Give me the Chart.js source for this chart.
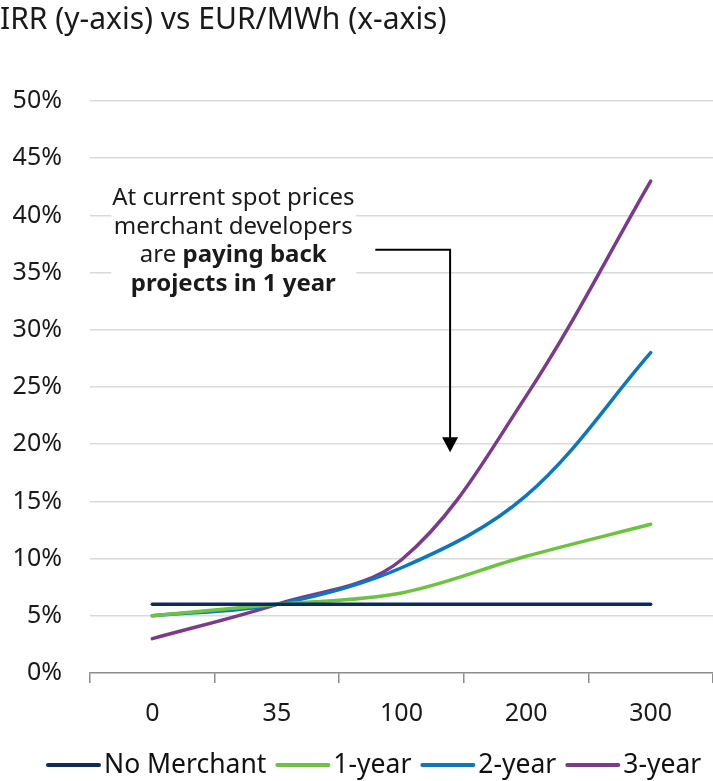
<!DOCTYPE html>
<html>
<head>
<meta charset="utf-8">
<script src="https://cdn.jsdelivr.net/npm/chart.js@4/dist/chart.umd.min.js"></script>
<style>
  html, body { margin: 0; padding: 0; background: #fff; }
  #wrap { width: 713px; height: 781px; position: relative; }
</style>
</head>
<body>
<div id="wrap"><canvas id="irr"></canvas></div>
<script>
// x categories: power price, EUR/MWh
const prices = ['0', '35', '100', '200', '300'];

// IRR in % for each merchant tail length
const noMerchant = [6, 6, 6, 6, 6];
const oneYear = [5, 6, 7, 10.2, 13];
const twoYear = [5, 6, 9.2, 15.5, 28];
const threeYear = [3, 6, 9.9, 24.2, 43];

const seriesNames = ['No Merchant', '1-year', '2-year', '3-year'];
const seriesColors = ['#0b2c5c', '#6cc33f', '#0a78be', '#7b3a8c'];

const yTicks = [0, 5, 10, 15, 20, 25, 30, 35, 40, 45, 50];

const FONT = "'Noto Sans', 'Open Sans', sans-serif";

// callout text + bent arrow
const calloutPlugin = {
  id: 'callout',
  afterDatasetsDraw(chart) {
    const { ctx, scales } = chart;
    const x = scales.x, y = scales.y;
    const step = x.getPixelForValue(1) - x.getPixelForValue(0);

    const cx = x.getPixelForValue(0) + step * 0.65;
    const first = y.getPixelForValue(41.5);
    const lh = 28.7;

    ctx.save();
    // white patch behind the text
    ctx.fillStyle = '#fff';
    ctx.fillRect(cx - 122, first - 14, 245, 114);

    ctx.fillStyle = '#1a1a1a';
    ctx.textAlign = 'center';
    ctx.textBaseline = 'middle';
    ctx.font = '24px ' + FONT;
    ctx.fillText('At current spot prices', cx, first);
    ctx.fillText('merchant developers', cx, first + lh);

    // mixed regular / bold line
    const l3y = first + lh * 2;
    ctx.font = '24px ' + FONT;
    const w1 = ctx.measureText('are ').width;
    ctx.font = 'bold 24px ' + FONT;
    const w2 = ctx.measureText('paying back').width;
    const sx = cx - (w1 + w2) / 2;
    ctx.textAlign = 'left';
    ctx.font = '24px ' + FONT;
    ctx.fillText('are ', sx, l3y);
    ctx.font = 'bold 24px ' + FONT;
    ctx.fillText('paying back', sx + w1, l3y);
    ctx.textAlign = 'center';
    ctx.fillText('projects in 1 year', cx, first + lh * 3);

    // arrow
    const ax = x.getPixelForValue(2) + step * 0.39;
    const ay0 = y.getPixelForValue(37);
    const tip = y.getPixelForValue(19.3);
    ctx.strokeStyle = '#000';
    ctx.lineWidth = 2;
    ctx.beginPath();
    ctx.moveTo(cx + 142, ay0);
    ctx.lineTo(ax, ay0);
    ctx.lineTo(ax, tip - 14);
    ctx.stroke();
    ctx.fillStyle = '#000';
    ctx.beginPath();
    ctx.moveTo(ax - 8, tip - 15);
    ctx.lineTo(ax + 8, tip - 15);
    ctx.lineTo(ax, tip);
    ctx.closePath();
    ctx.fill();
    ctx.restore();
  }
};

// legend row drawn as line swatch + label, packed tight
const legendRowPlugin = {
  id: 'legendRow',
  afterDraw(chart) {
    const { ctx } = chart;
    const yMid = 765;
    const lineLen = 53;
    ctx.save();
    ctx.font = '26.5px ' + FONT;
    ctx.textBaseline = 'middle';
    ctx.textAlign = 'left';
    const items = chart.data.datasets.map(ds => ({
      label: ds.label, color: ds.borderColor,
      w: lineLen + 5 + ctx.measureText(ds.label).width
    }));
    const gap = 9;
    let x = 47;
    items.forEach(it => {
      ctx.strokeStyle = it.color;
      ctx.lineWidth = 4;
      ctx.lineCap = 'round';
      ctx.beginPath();
      ctx.moveTo(x + 1, yMid);
      ctx.lineTo(x + lineLen - 1, yMid);
      ctx.stroke();
      ctx.fillStyle = '#111';
      ctx.fillText(it.label, x + lineLen + 4, yMid);
      x += it.w + gap;
    });
    ctx.restore();
  }
};

const seriesData = [noMerchant, oneYear, twoYear, threeYear];

new Chart(document.getElementById('irr'), {
  type: 'line',
  data: {
    labels: prices,
    datasets: seriesData.map((d, i) => ({
      label: seriesNames[i],
      data: d,
      borderColor: seriesColors[i],
      backgroundColor: seriesColors[i],
      borderWidth: 3.5,
      borderCapStyle: 'round',
      pointRadius: 0,
      tension: 0.35,
      fill: false
    }))
  },
  options: {
    responsive: true,
    maintainAspectRatio: false,
    animation: false,
    layout: { padding: { top: 0, right: 0, bottom: 48, left: 0 } },
    plugins: {
      legend: { display: false },
      tooltip: { enabled: false },
      title: {
        display: true,
        text: 'IRR (y-axis) vs EUR/MWh (x-axis)',
        align: 'start',
        color: '#1a1a1a',
        font: { family: FONT, size: 30, weight: 'normal' },
        padding: { top: 2, bottom: 63 }
      }
    },
    scales: {
      x: {
        offset: true,
        grid: {
          offset: true,
          drawOnChartArea: false,
          drawTicks: true,
          tickLength: 10,
          color: '#8c8c8c',
          lineWidth: 1.5
        },
        border: { display: true, color: '#8c8c8c', width: 1.5 },
        ticks: {
          color: '#1a1a1a',
          padding: 16,
          font: { family: FONT, size: 25 }
        },
        afterFit(scale) { scale.height = 60; }
      },
      y: {
        min: 0,
        max: 50,
        afterBuildTicks(scale) { scale.ticks = yTicks.map(v => ({ value: v })); },
        grid: {
          drawTicks: false,
          color: ctx => ctx.tick && ctx.tick.value === 0 ? 'rgba(0,0,0,0)' : '#d9d9d9',
          lineWidth: 1.5
        },
        border: { display: false },
        ticks: {
          color: '#1a1a1a',
          padding: 28,
          font: { family: FONT, size: 25 },
          callback: v => v + '%'
        },
        afterFit(scale) { scale.width = 90; }
      }
    }
  },
  plugins: [calloutPlugin, legendRowPlugin]
});
</script>
</body>
</html>
